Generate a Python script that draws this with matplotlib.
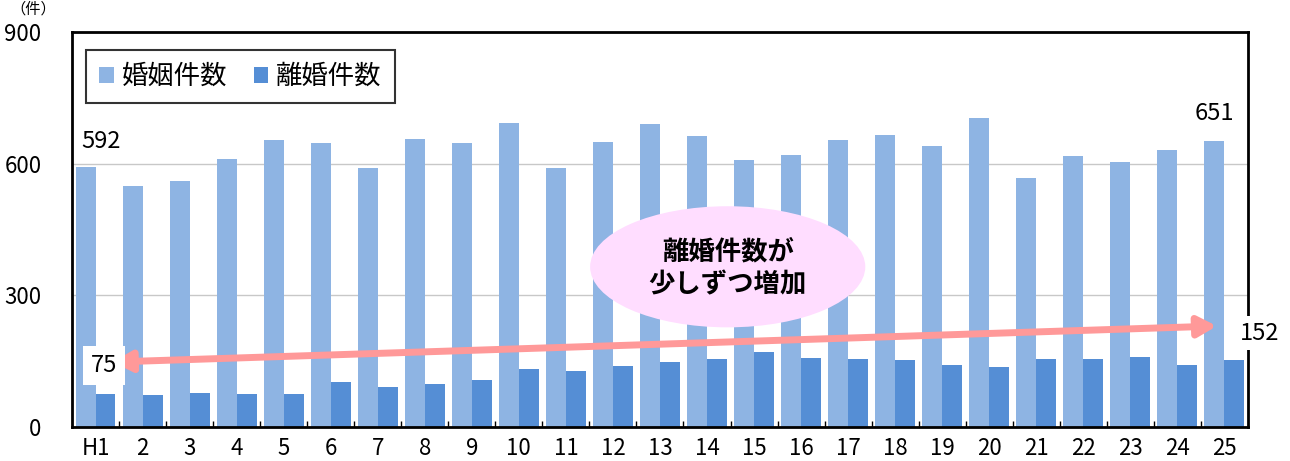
import matplotlib.pyplot as plt
from matplotlib.patches import Ellipse

plt.rcParams['font.family'] = ['Liberation Sans Narrow', 'Noto Sans CJK JP', 'DejaVu Sans']

# データ
categories = ["H1"] + [str(i) for i in range(2, 26)]
marriages = [592, 549, 560, 611, 654, 647, 590, 656, 647, 693, 590, 649, 690,
             663, 608, 620, 654, 665, 640, 704, 567, 617, 604, 631, 651]
divorces = [75, 73, 77, 75, 76, 102, 90, 98, 107, 133, 128, 138, 147,
            156, 171, 158, 155, 153, 142, 136, 154, 155, 159, 141, 152]
yticks = [0, 300, 600, 900]

fig = plt.figure(figsize=(12.9, 4.61), dpi=100)
ax = fig.add_axes([0.0558, 0.0738, 0.9116, 0.8568])

x = list(range(len(categories)))
w = 0.425
ax.bar([i - w / 2 for i in x], marriages, w, color="#8EB4E3", label="婚姻件数", zorder=2)
ax.bar([i + w / 2 for i in x], divorces, w, color="#558ED5", label="離婚件数", zorder=2)

ax.set_xlim(-0.5, len(categories) - 0.5)
ax.set_ylim(0, 900)
ax.set_yticks(yticks)
ax.set_yticklabels([str(v) for v in yticks], fontsize=16)
ax.tick_params(axis="y", length=0, pad=22)
ax.set_xticks(x)
ax.set_xticklabels(categories, fontsize=16)
ax.tick_params(axis="x", length=0, pad=7)
ax.set_xticks([i + 0.5 for i in x[:-1]], minor=True)
ax.tick_params(axis="x", which="minor", direction="in", length=4, width=1)
ax.grid(axis="y", color="#C8C8C8", linewidth=1, zorder=0)
for s in ax.spines.values():
    s.set_linewidth(2)

# 凡例
leg = ax.legend(loc="upper left", bbox_to_anchor=(0.012, 0.955), ncol=2,
                frameon=True, fancybox=False, edgecolor="black", handlelength=0.55,
                handleheight=0.55, handletextpad=0.3, columnspacing=1.0,
                borderpad=0.5, borderaxespad=0,
                prop={"family": ["Noto Sans CJK JP"], "size": 19})
leg.get_frame().set_linewidth(1.5)

# ラベル
ax.annotate(str(marriages[0]), (0 - w / 2, marriages[0]), xytext=(11, 10),
            textcoords="offset points", ha="center", va="bottom", fontsize=17)
ax.annotate(str(marriages[-1]), (x[-1] - w / 2, marriages[-1]), xytext=(0, 12),
            textcoords="offset points", ha="center", va="bottom", fontsize=17)

# 矢印
ax.annotate("", xy=(0.37, 148), xytext=(23.84, 230),
            arrowprops=dict(arrowstyle="<|-|>,head_length=1.1,head_width=0.6",
                            color="#FF9999", lw=5, shrinkA=0, shrinkB=0), zorder=4)
ax.text(0.18, 140, str(divorces[0]), fontsize=17, ha="center", va="center", zorder=5,
        bbox=dict(facecolor="white", edgecolor="none", pad=6))
ax.text(24.75, 214, str(divorces[-1]), fontsize=17, ha="center", va="center",
        clip_on=False, zorder=5, bbox=dict(facecolor="white", edgecolor="none", pad=4))

# 吹き出し
ax.add_patch(Ellipse((13.44, 365), 5.85, 276, facecolor="#FFDDFF", edgecolor="none", zorder=3))
ax.text(13.44, 362, "離婚件数が\n少しずつ増加", fontsize=19, fontweight="bold", ha="center",
        va="center", linespacing=1.3, family=["Noto Sans CJK JP"], zorder=4)

fig.text(0.008, 0.998, "（件）", fontsize=11, ha="left", va="top", family=["Noto Sans CJK JP"])

fig.savefig("out.png", dpi=100)
